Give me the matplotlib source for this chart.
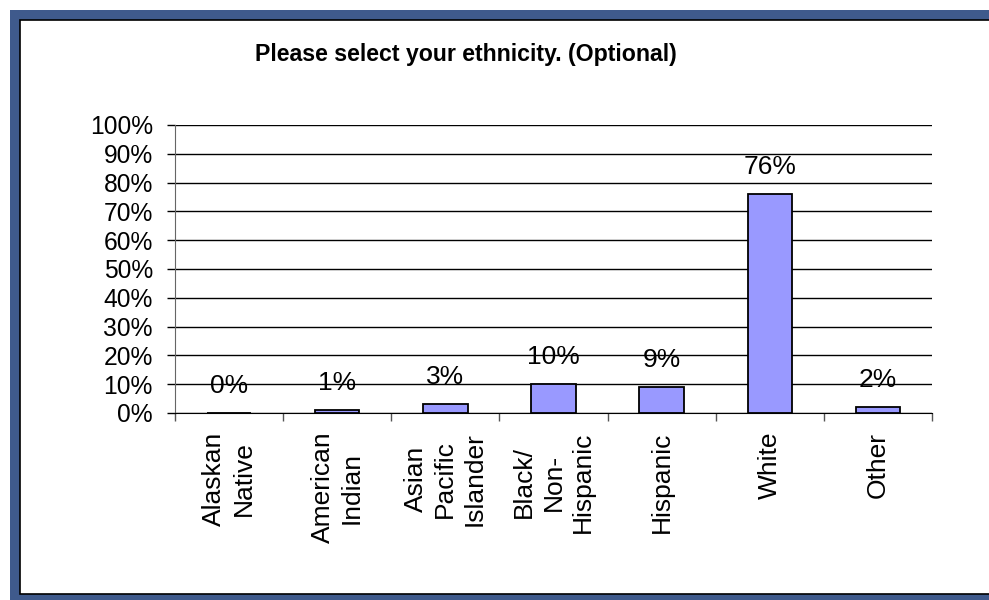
import matplotlib
matplotlib.use("Agg")
import matplotlib.pyplot as plt
from matplotlib.patches import Rectangle
from matplotlib.ticker import PercentFormatter, FixedLocator
import numpy as np

plt.rcParams['font.family'] = ['Liberation Sans', 'DejaVu Sans']

TITLE = "Please select your ethnicity. (Optional)"
categories = ["Alaskan\nNative", "American\nIndian", "Asian\nPacific\nIslander",
              "Black/\nNon-\nHispanic", "Hispanic", "White", "Other"]
percents = [0, 1, 3, 10, 9, 76, 2]

W, H = 989, 600
fig = plt.figure(figsize=(W / 100, H / 100), dpi=100)

# blue frame with white panel inside
fig.add_artist(Rectangle((10 / W, 0), 1, 590 / H, transform=fig.transFigure,
                         facecolor='#3F5A8C', edgecolor='none', zorder=-2))
fig.add_artist(Rectangle((20 / W, 6 / H), 1, 574 / H, transform=fig.transFigure,
                         facecolor='white', edgecolor='black', linewidth=1.2, zorder=-1))

ax = fig.add_axes([175 / W, 1 - 413 / H, (932 - 175) / W, (413 - 125) / H])
ax.patch.set_alpha(0)

vals = np.array(percents) / 100.0
x = np.arange(len(categories))
bars = ax.bar(x, vals, width=0.41, color='#9999FF', edgecolor='black', linewidth=1.3, zorder=3)

for xi, v, p in zip(x, vals, percents):
    ax.annotate(f"{p}%", (xi, v), xytext=(0, 11), textcoords='offset points',
                ha='center', va='bottom', fontsize=19)

ax.set_xlim(-0.5, len(categories) - 0.5)
ax.set_ylim(0, 1)
ax.yaxis.set_major_locator(FixedLocator(np.linspace(0, 1, 11)))
ax.yaxis.set_major_formatter(PercentFormatter(1.0, decimals=0))
ax.grid(axis='y', color='black', linewidth=1)
ax.set_axisbelow(True)

# category boundary ticks, labels placed at bar centers
ax.set_xticks(np.arange(len(categories) + 1) - 0.5)
ax.set_xticklabels([])
ax.tick_params(axis='x', length=6, width=1, color='#555555')
ax.tick_params(axis='y', length=6, width=1, pad=10, labelsize=17.7)
for xi, lab in zip(x, categories):
    ax.annotate(lab, (xi, 0), xytext=(0, -13.5), textcoords='offset points',
                rotation=90, ha='center', va='top', multialignment='center',
                fontsize=19, linespacing=1.28)

for side in ['top', 'right']:
    ax.spines[side].set_visible(False)
ax.spines['left'].set_color('#666666')
ax.spines['bottom'].set_color('black')

fig.text(466 / W, 1 - 54 / H, TITLE, ha='center', va='center',
         fontsize=16.7, fontweight='bold')

fig.savefig("out.png", dpi=100)
